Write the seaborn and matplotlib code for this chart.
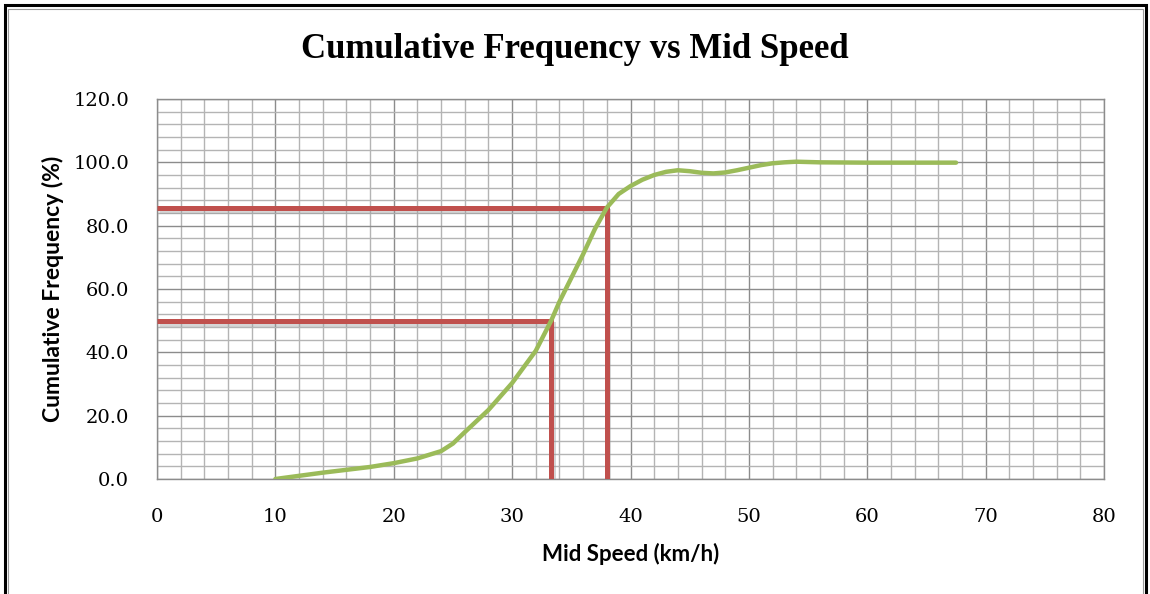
import matplotlib
matplotlib.use("Agg")
import matplotlib.pyplot as plt
import matplotlib.patheffects as pe
from matplotlib.patches import Rectangle
from matplotlib.ticker import MultipleLocator, FixedLocator
import numpy as np
import pandas as pd
import seaborn as sns

# ---- data ----
mid_speed = [10, 12, 14, 16, 18, 20, 22, 24, 25, 26, 28, 30, 32, 33.3, 34, 35, 36, 37,
             38, 39, 40, 41, 42, 43, 44, 45, 46, 47, 48, 49, 50, 51, 52, 53, 54, 56,
             60, 64, 67.5]
cum_freq = [0.0, 1.0, 2.0, 2.9, 3.8, 5.0, 6.5, 8.8, 11.2, 14.8, 21.8, 30.3, 40.5, 50.0,
            56.0, 63.5, 71.0, 79.0, 85.7, 90.0, 92.5, 94.5, 96.0, 97.0, 97.5, 97.2,
            96.7, 96.5, 96.8, 97.5, 98.3, 99.1, 99.7, 100.0, 100.2, 100.0, 99.9, 99.9,
            99.9]

# percentile guide lines (speed, cumulative %)
p50_speed, p50_value = 33.3, 50.0
p85_speed, p85_value = 38.0, 85.5

x_ticks = [0, 10, 20, 30, 40, 50, 60, 70, 80]
y_ticks = [0, 20, 40, 60, 80, 100, 120]

title = "Cumulative Frequency vs Mid Speed"
x_label = "Mid Speed (km/h)"
y_label = "Cumulative Frequency (%)"

# ---- plotting ----
sns.set_style("white")
plt.rcParams['font.family'] = ['DejaVu Serif']

fig = plt.figure(figsize=(11.5, 5.94), dpi=100)
ax = fig.add_axes([157 / 1150, 1 - 479 / 594, (1104 - 157) / 1150, (479 - 99) / 594])

df = pd.DataFrame({"speed": mid_speed, "freq": cum_freq})

red = "#C0504D"
shadow = [pe.SimpleLineShadow(offset=(1.2, -2.2), shadow_color="#9a9a9a", alpha=0.4),
          pe.Normal()]

# guide lines
guide85 = pd.DataFrame({
    "x": [0, p85_speed, p85_speed],
    "y": [p85_value, p85_value, 0],
})
guide50 = pd.DataFrame({
    "x": [0, p50_speed, p50_speed],
    "y": [p50_value, p50_value, 0],
})
for g in (guide85, guide50):
    sns.lineplot(data=g, x="x", y="y", sort=False, estimator=None, ax=ax, color=red,
                 lw=3.6, path_effects=shadow, solid_capstyle="butt",
                 solid_joinstyle="miter", zorder=3)

sns.lineplot(data=df, x="speed", y="freq", estimator=None, ax=ax, color="#9BBB59",
             lw=3.2, zorder=4, solid_capstyle="round", solid_joinstyle="round")

ax.set_xlim(0, 80)
ax.set_ylim(0, 120)
ax.xaxis.set_major_locator(FixedLocator(x_ticks))
ax.yaxis.set_major_locator(FixedLocator(y_ticks))
ax.xaxis.set_minor_locator(MultipleLocator(2))
ax.yaxis.set_minor_locator(MultipleLocator(4))
ax.set_xticklabels([str(t) for t in x_ticks])
ax.set_yticklabels([f"{t:.1f}" for t in y_ticks])

ax.grid(which="major", color="#8c8c8c", lw=1.0, zorder=0)
ax.grid(which="minor", color="#b4b4b4", lw=1.0, zorder=0)
ax.set_axisbelow(True)
for s in ax.spines.values():
    s.set_color("#8c8c8c")
    s.set_linewidth(1.0)

ax.tick_params(axis="both", which="both", length=0, labelsize=14, colors="black")
ax.tick_params(axis="y", pad=20)
ax.tick_params(axis="x", pad=21)

ax.set_xlabel(x_label, fontsize=16, fontweight="bold", family=["Lato", "DejaVu Sans"],
              labelpad=12, color="black")
ax.set_ylabel(y_label, fontsize=16.5, fontweight="bold", family=["Lato", "DejaVu Sans"],
              labelpad=7, color="black")

fig.text(0.5, 1 - 50 / 594, title, ha="center", va="center", fontsize=25,
         fontweight="bold", family=["Liberation Serif", "DejaVu Serif"], color="black")

# outer chart frame
fig.patches.append(Rectangle((5 / 1150, -0.01), 1141 / 1150, 1 - 5 / 594 + 0.01,
                             transform=fig.transFigure, fill=False,
                             edgecolor="black", lw=2.2))
fig.patches.append(Rectangle((8 / 1150, -0.01), 1135 / 1150, 1 - 9 / 594 + 0.01,
                             transform=fig.transFigure, fill=False,
                             edgecolor="#9a9a9a", lw=0.8))

fig.savefig("out.png", dpi=100)
